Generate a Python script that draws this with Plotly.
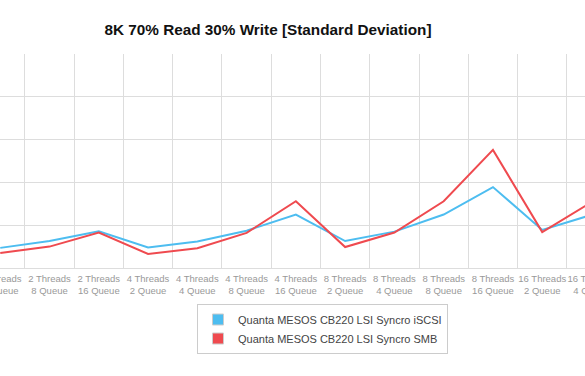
import plotly.graph_objects as go

categories = [
    "2 Threads<br>4 Queue", "2 Threads<br>8 Queue", "2 Threads<br>16 Queue",
    "4 Threads<br>2 Queue", "4 Threads<br>4 Queue", "4 Threads<br>8 Queue", "4 Threads<br>16 Queue",
    "8 Threads<br>2 Queue", "8 Threads<br>4 Queue", "8 Threads<br>8 Queue", "8 Threads<br>16 Queue",
    "16 Threads<br>2 Queue", "16 Threads<br>4 Queue",
]
iscsi = [4.7, 6.3, 8.6, 4.8, 6.2, 8.7, 12.5, 6.3, 8.5, 12.5, 18.9, 8.9, 12.4]
smb = [3.5, 5.0, 8.3, 3.3, 4.6, 8.2, 15.6, 4.9, 8.3, 15.6, 27.6, 8.4, 15.4]

series_names = ["Quanta MESOS CB220 LSI Syncro iSCSI", "Quanta MESOS CB220 LSI Syncro SMB"]
colors = ["#4DBDF0", "#EF4A4F"]

W, H = 592, 376
fig = go.Figure()
for name, vals, col in zip(series_names, [iscsi, smb], colors):
    fig.add_trace(go.Scatter(x=categories, y=vals, mode="lines", name=name,
                             line=dict(color=col, width=2), showlegend=False,
                             cliponaxis=True, hoverinfo="skip"))
for name, col in zip(series_names, colors):
    fig.add_trace(go.Scatter(x=[None], y=[None], mode="markers", name=name,
                             marker=dict(symbol="square", size=11, color=col,
                                         line=dict(color="#cccccc", width=1))))

fig.update_layout(
    width=W, height=H,
    margin=dict(l=0, r=0, t=54, b=108, autoexpand=False),
    paper_bgcolor="white", plot_bgcolor="white",
    font=dict(family="Liberation Sans, Arial, sans-serif"),
    title=dict(text="<b>8K 70% Read 30% Write [Standard Deviation]</b>",
               x=268/W, xanchor="center", xref="paper",
               y=1 - 30/H, yanchor="middle",
               font=dict(size=15.3, color="#111111")),
    xaxis=dict(type="category", range=[-0.005, 12.01], tickson="boundaries",
               automargin=False,
               showgrid=True, gridcolor="#dddddd", gridwidth=1,
               showline=False, ticks="", tickangle=0, ticklabelstandoff=3,
               tickfont=dict(size=9.5, color="#999999")),
    yaxis=dict(range=[0, 50], dtick=10, showticklabels=False, automargin=False,
               showgrid=True, gridcolor="#dddddd", gridwidth=1,
               zeroline=True, zerolinecolor="#dddddd", zerolinewidth=1,
               fixedrange=True),
    legend=dict(x=197/W, xanchor="left", y=(268 - 304) / 214, yanchor="top",
                bordercolor="#cccccc", borderwidth=1, bgcolor="white",
                font=dict(size=11, color="#444444"),
                itemwidth=30, tracegroupgap=0),
    showlegend=True,
    hovermode=False,
)

fig.write_html(
    "out.html",
    config={"displayModeBar": False},
    post_script="document.body.style.margin='0';document.body.style.overflow='hidden';",
)
